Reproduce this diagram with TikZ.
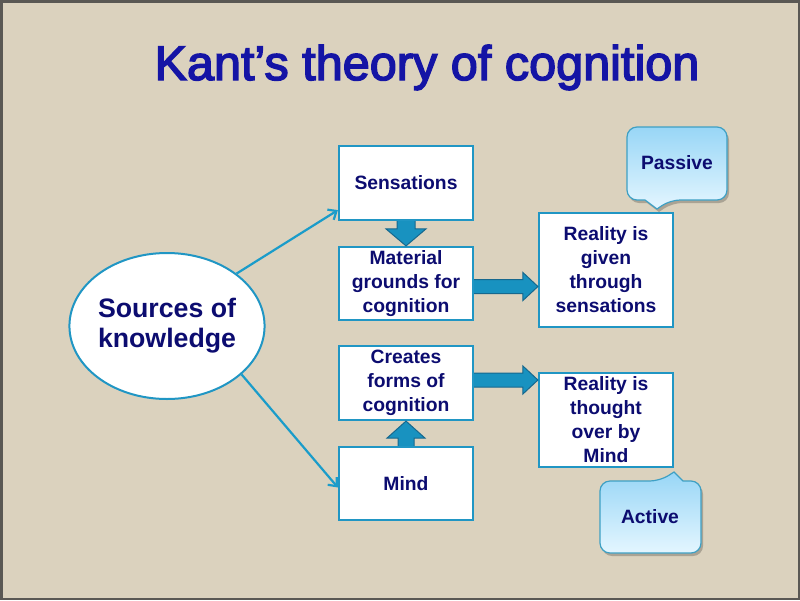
\documentclass[tikz,border=0pt]{standalone}
\usepackage{fontspec}
\setmainfont{Liberation Sans}
\newfontfamily\titlefont[FakeBold=3]{Liberation Sans}
\usepackage{xcolor}
\definecolor{Linen}{RGB}{219, 210, 190}
\definecolor{FrameGrey}{RGB}{90, 88, 84}
\definecolor{KantNavy}{RGB}{12, 12, 112}
\definecolor{TitleBlue}{RGB}{20, 20, 165}
\definecolor{BoxBlue}{RGB}{32, 150, 196}
\definecolor{LinkBlue}{RGB}{26, 156, 202}
\definecolor{ArrowFill}{RGB}{24, 146, 192}
\definecolor{ArrowEdge}{RGB}{22, 104, 142}
\definecolor{CalloutTop}{RGB}{152, 214, 246}
\definecolor{CalloutBottom}{RGB}{228, 246, 255}
\definecolor{CalloutEdge}{RGB}{62, 160, 196}
\usetikzlibrary{arrows.meta, positioning, shapes.geometric, calc}

\begin{document}
\begin{tikzpicture}[
    x=1pt, y=-1pt,
    box/.style={rectangle, draw=BoxBlue, line width=2.2pt, fill=white, minimum width=134pt, minimum height=74pt, inner sep=2pt, align=center, text=KantNavy, font=\bfseries\fontsize{19.3}{24}\selectfont},
    source/.style={ellipse, draw=BoxBlue, line width=2pt, fill=white, minimum width=160pt, minimum height=146pt, inner sep=0pt, align=center, text=KantNavy, font=\bfseries\fontsize{26.7}{30}\selectfont},
    link/.style={-{Straight Barb[length=7pt, width=12pt]}, line width=2.2pt, LinkBlue},
    fat/.style={fill=ArrowFill, draw=ArrowEdge, line width=1pt, line join=miter},
    callout/.style={draw=CalloutEdge, line width=1.2pt, top color=CalloutTop, bottom color=CalloutBottom},
    dropshade/.style={fill=black, opacity=0.22},
    note/.style={text=KantNavy, font=\bfseries\fontsize{19.3}{24}\selectfont},
    heading/.style={anchor=base, text=TitleBlue, font=\titlefont\fontsize{48.6}{52}\selectfont}
]

% Slide
\useasboundingbox (0,0) rectangle (800,600);
\fill[Linen] (0,0) rectangle (800,600);
\draw[FrameGrey, line width=2.5pt] (1.25,1.25) rectangle (798.75,598.75);

% Title
\node[heading] (title) at (427,80) {Kant’s theory of cognition};

% Nodes
\node[source] (src) at (167,326) {Sources of\\knowledge};
\node[box] (sens) at (406,183) {Sensations};
\node[box, minimum height=73pt] (mat) at (406,283.5) {Material\\grounds for\\cognition};
\node[box] (forms) at (406,383) {Creates\\forms of\\cognition};
\node[box, minimum height=73pt] (mind) at (406,483.5) {Mind};
\node[box, minimum height=114pt] (given) at (606,270) {Reality is\\given\\through\\sensations};
\node[box, minimum height=94pt] (thought) at (606,420) {Reality is\\thought\\over by\\Mind};

% Links from the source
\draw[link] (src.37) -- ([yshift=11pt]sens.south west);
\draw[link] (src.-33) -- ([yshift=-4pt]mind.west);

% Block arrows
\path[fat] ($(sens.south)+(-9,0)$) -- ($(mat.north)+(-9,-17)$) -- ($(mat.north)+(-20,-17)$) -- (mat.north)
    -- ($(mat.north)+(20,-17)$) -- ($(mat.north)+(9,-17)$) -- ($(sens.south)+(9,0)$);
\path[fat] ($(mind.north)+(-8,0)$) -- ($(forms.south)+(-8,17)$) -- ($(forms.south)+(-19,17)$) -- (forms.south)
    -- ($(forms.south)+(19,17)$) -- ($(forms.south)+(8,17)$) -- ($(mind.north)+(8,0)$);
\coordinate (a1) at ($(mat.east)+(0,3)$);
\coordinate (t1) at (a1 -| given.west);
\path[fat] ($(a1)+(0,-7)$) -- ($(t1)+(-15,-7)$) -- ($(t1)+(-15,-14)$) -- (t1)
    -- ($(t1)+(-15,14)$) -- ($(t1)+(-15,7)$) -- ($(a1)+(0,7)$);
\coordinate (a2) at ($(forms.east)+(0,-3)$);
\coordinate (t2) at (a2 -| thought.west);
\path[fat] ($(a2)+(0,-7)$) -- ($(t2)+(-15,-7)$) -- ($(t2)+(-15,-14)$) -- (t2)
    -- ($(t2)+(-15,14)$) -- ($(t2)+(-15,7)$) -- ($(a2)+(0,7)$);

% Callouts
\path[dropshade, shift={(2,3)}] (677,127) [rounded corners=10pt] -- (727,127) -- (727,200) -- (670,200) [sharp corners]
    -- (657,209) -- (645,200) [rounded corners=10pt] -- (627,200) -- (627,127) -- cycle;
\path[callout] (677,127) [rounded corners=10pt] -- (727,127) -- (727,200) -- (670,200) [sharp corners]
    -- (657,209) -- (645,200) [rounded corners=10pt] -- (627,200) -- (627,127) -- cycle;
\node[note] (passive) at (677,163) {Passive};

\path[dropshade, shift={(2,3)}] (650,553) [rounded corners=10pt] -- (600,553) -- (600,481) -- (660,481) [sharp corners]
    -- (674,472) -- (683,481) [rounded corners=10pt] -- (701,481) -- (701,553) -- cycle;
\path[callout] (650,553) [rounded corners=10pt] -- (600,553) -- (600,481) -- (660,481) [sharp corners]
    -- (674,472) -- (683,481) [rounded corners=10pt] -- (701,481) -- (701,553) -- cycle;
\node[note] (active) at (650,517) {Active};

\end{tikzpicture}
\end{document}
